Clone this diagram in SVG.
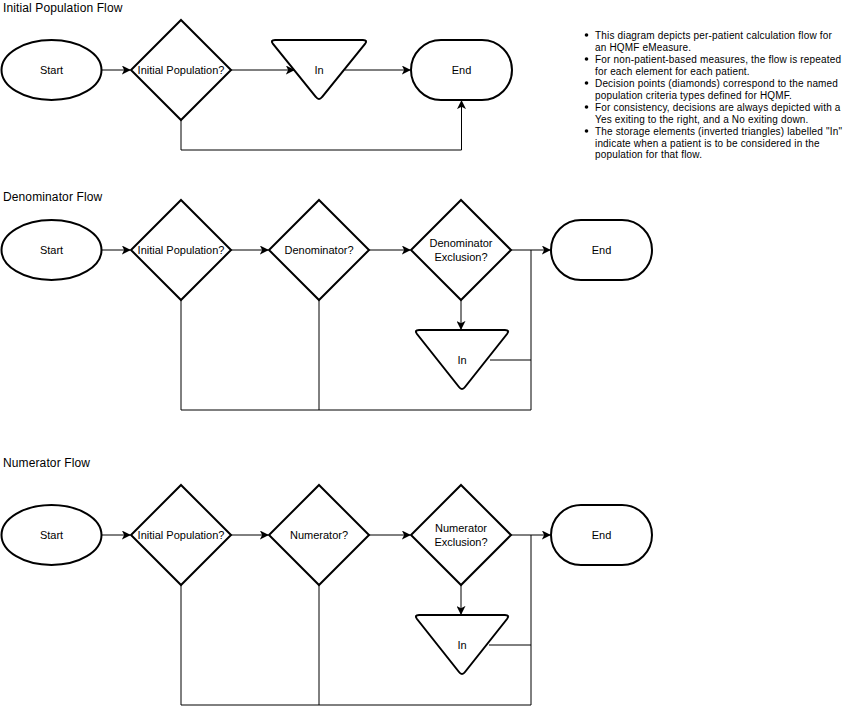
<svg xmlns="http://www.w3.org/2000/svg" width="852" height="714" viewBox="0 0 852 714">
<style>
.shape{fill:#fff;stroke:#000;stroke-width:2}
.c{fill:none;stroke:#000;stroke-width:1}
.t{font-family:"Liberation Sans",Arial,sans-serif;font-size:11px;fill:#000;text-anchor:middle;dominant-baseline:central}
.title{font-family:"Liberation Sans",Arial,sans-serif;font-size:12px;letter-spacing:0.12px;fill:#000}
.note{font-family:"Liberation Sans",Arial,sans-serif;font-size:10px;letter-spacing:0.17px;fill:#000}
</style>
<defs>
<marker id="arr" viewBox="0 0 10 10" refX="9" refY="5" markerWidth="9" markerHeight="9" markerUnits="userSpaceOnUse" orient="auto">
<path d="M0,0 L10,5 L0,10 L2.5,5 Z" fill="#000"/>
</marker>
</defs>
<rect width="852" height="714" fill="#fff"/>

<text class="title" x="3" y="12">Initial Population Flow</text>
<text class="title" x="3" y="201">Denominator Flow</text>
<text class="title" x="3" y="467">Numerator Flow</text>

<g id="notes">
<g class="note">
<circle cx="586.5" cy="35" r="1.8"/>
<text x="595" y="38.5">This diagram depicts per-patient calculation flow for</text>
<text x="595" y="50.5">an HQMF eMeasure.</text>
<circle cx="586.5" cy="59" r="1.8"/>
<text x="595" y="62.5">For non-patient-based measures, the flow is repeated</text>
<text x="595" y="74.5">for each element for each patient.</text>
<circle cx="586.5" cy="83" r="1.8"/>
<text x="595" y="86.5">Decision points (diamonds) correspond to the named</text>
<text x="595" y="98.5">population criteria types defined for HQMF.</text>
<circle cx="586.5" cy="107" r="1.8"/>
<text x="595" y="110.5">For consistency, decisions are always depicted with a</text>
<text x="595" y="122.5">Yes exiting to the right, and a No exiting down.</text>
<circle cx="586.5" cy="131" r="1.8"/>
<text x="595" y="134.5">The storage elements (inverted triangles) labelled "In"</text>
<text x="595" y="146.5">indicate when a patient is to be considered in the</text>
<text x="595" y="158">population for that flow.</text>
</g>
</g>

<!-- Section 1 -->
<g id="connectors1">
<path class="c" d="M102,70 H130" marker-end="url(#arr)"/>
<path class="c" d="M231,70 H294" marker-end="url(#arr)"/>
<path class="c" d="M345,70 H410" marker-end="url(#arr)"/>
<path class="c" d="M181,120 V150 H461.5 V101" marker-end="url(#arr)"/>
</g>
<g id="s1-start"><ellipse class="shape" cx="51.5" cy="70" rx="50" ry="30"/><text class="t" x="51.5" y="70">Start</text></g>
<g id="s1-ip"><path class="shape" d="M181,20 L231,70 L181,120 L131,70 Z"/><text class="t" x="181" y="70">Initial Population?</text></g>
<g id="s1-in"><path class="shape" d="M275,40 H363 Q368,40 365,44 L322,97 Q319,101 316,97 L273,44 Q270,40 275,40 Z"/><text class="t" x="319" y="70">In</text></g>
<g id="s1-end"><rect class="shape" x="411" y="40" width="101" height="60" rx="30" ry="30"/><text class="t" x="461.5" y="70">End</text></g>

<!-- Section 2 -->
<g id="connectors2">
<path class="c" d="M102,250 H130" marker-end="url(#arr)"/>
<path class="c" d="M231,250 H268" marker-end="url(#arr)"/>
<path class="c" d="M369,250 H410" marker-end="url(#arr)"/>
<path class="c" d="M511,250 H550" marker-end="url(#arr)"/>
<path class="c" d="M461,300 V329" marker-end="url(#arr)"/>
<path class="c" d="M490,360 H531"/>
<path class="c" d="M531,250 V410 H181 V300"/>
<path class="c" d="M319,300 V410"/>
</g>
<g id="s2-start"><ellipse class="shape" cx="51.5" cy="250" rx="50" ry="30"/><text class="t" x="51.5" y="250">Start</text></g>
<g id="s2-ip"><path class="shape" d="M181,200 L231,250 L181,300 L131,250 Z"/><text class="t" x="181" y="250">Initial Population?</text></g>
<g id="s2-den"><path class="shape" d="M319,200 L369,250 L319,300 L269,250 Z"/><text class="t" x="319" y="250">Denominator?</text></g>
<g id="s2-denex"><path class="shape" d="M461,200 L511,250 L461,300 L411,250 Z"/><text class="t" x="461" y="243">Denominator</text><text class="t" x="461" y="257">Exclusion?</text></g>
<g id="s2-in"><path class="shape" d="M419,330 H505 Q510,330 507,334 L465,387 Q462,391 459,387 L417,334 Q414,330 419,330 Z"/><text class="t" x="462" y="360">In</text></g>
<g id="s2-end"><rect class="shape" x="551" y="220" width="101" height="60" rx="30" ry="30"/><text class="t" x="601.5" y="250">End</text></g>

<!-- Section 3 -->
<g id="connectors3">
<path class="c" d="M102,535 H130" marker-end="url(#arr)"/>
<path class="c" d="M231,535 H268" marker-end="url(#arr)"/>
<path class="c" d="M369,535 H410" marker-end="url(#arr)"/>
<path class="c" d="M511,535 H550" marker-end="url(#arr)"/>
<path class="c" d="M461,585 V614" marker-end="url(#arr)"/>
<path class="c" d="M489,645 H531"/>
<path class="c" d="M531,535 V705 H181 V585"/>
<path class="c" d="M319,585 V705"/>
</g>
<g id="s3-start"><ellipse class="shape" cx="51.5" cy="535" rx="50" ry="30"/><text class="t" x="51.5" y="535">Start</text></g>
<g id="s3-ip"><path class="shape" d="M181,485 L231,535 L181,585 L131,535 Z"/><text class="t" x="181" y="535">Initial Population?</text></g>
<g id="s3-num"><path class="shape" d="M319,485 L369,535 L319,585 L269,535 Z"/><text class="t" x="319" y="535">Numerator?</text></g>
<g id="s3-numex"><path class="shape" d="M461,485 L511,535 L461,585 L411,535 Z"/><text class="t" x="461" y="528">Numerator</text><text class="t" x="461" y="542">Exclusion?</text></g>
<g id="s3-in"><path class="shape" d="M419,615 H505 Q510,615 507,619 L465,672 Q462,676 459,672 L417,619 Q414,615 419,615 Z"/><text class="t" x="462" y="645">In</text></g>
<g id="s3-end"><rect class="shape" x="551" y="505" width="101" height="60" rx="30" ry="30"/><text class="t" x="601.5" y="535">End</text></g>
</svg>
